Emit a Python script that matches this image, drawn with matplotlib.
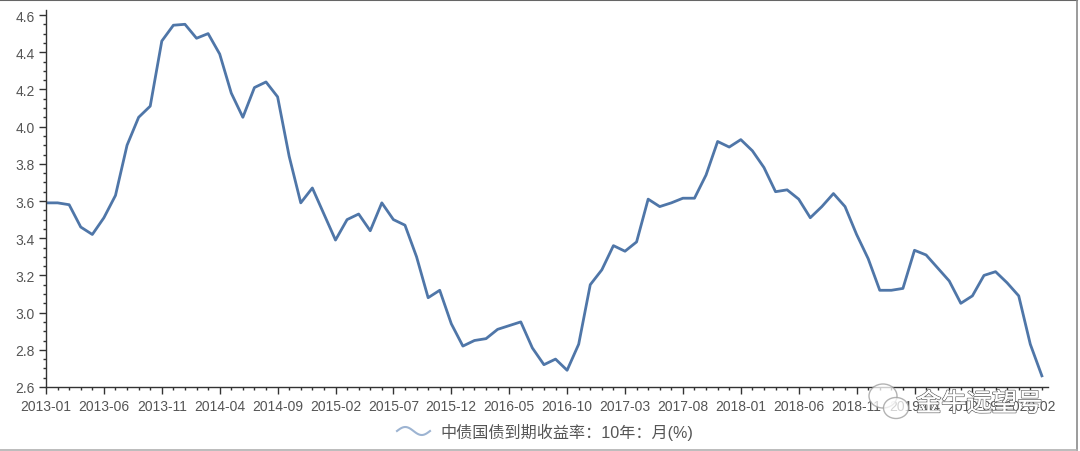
import numpy as np
import pandas as pd
import matplotlib
matplotlib.use('Agg')
import matplotlib.pyplot as plt
import matplotlib.patheffects as pe
from matplotlib.lines import Line2D
from matplotlib.patches import Ellipse

plt.rcParams['font.family'] = ['Liberation Sans', 'Noto Sans CJK SC', 'DejaVu Sans']

months = pd.date_range('2013-01-01', periods=87, freq='MS').strftime('%Y-%m').tolist()
yields = [3.59, 3.59, 3.58, 3.46, 3.42, 3.51, 3.63, 3.90, 4.05, 4.11,
          4.46, 4.545, 4.55, 4.475, 4.50, 4.39, 4.18, 4.05, 4.21, 4.24,
          4.16, 3.84, 3.59, 3.67, 3.53, 3.39, 3.50, 3.53, 3.44, 3.59,
          3.50, 3.47, 3.30, 3.08, 3.12, 2.94, 2.82, 2.85, 2.86, 2.91,
          2.93, 2.95, 2.81, 2.72, 2.75, 2.69, 2.83, 3.15, 3.23, 3.36,
          3.33, 3.38, 3.61, 3.57, 3.59, 3.615, 3.615, 3.74, 3.92, 3.89,
          3.93, 3.87, 3.78, 3.65, 3.66, 3.61, 3.51, 3.57, 3.64, 3.57,
          3.42, 3.29, 3.12, 3.12, 3.13, 3.335, 3.31, 3.24, 3.17, 3.05,
          3.09, 3.20, 3.22, 3.16, 3.09, 2.83, 2.66]
y_ticks = [2.6, 2.8, 3.0, 3.2, 3.4, 3.6, 3.8, 4.0, 4.2, 4.4, 4.6]
legend_label = '中债国债到期收益率：10年：月(%)'
watermark = '金牛远望号'

W, H = 1080, 452
TXT = '#555555'
AXC = '#333333'

fig = plt.figure(figsize=(W / 100, H / 100), dpi=100)
ax = fig.add_axes([46 / W, 1 - 388 / H, (1048 - 46) / W, (388 - 11) / H])

x = np.arange(len(months))
ax.plot(x, yields, color='#4f76a8', lw=2.0, solid_joinstyle='round')

ax.set_xlim(0, 1002 / 11.58)
ax.set_ylim(2.6, 2.6 + 377 / 186)

ax.set_xticks(x[::5])
ax.set_xticklabels(months[::5])
ax.set_xticks(x, minor=True)
ax.set_yticks(y_ticks)
ax.set_yticklabels([f'{v:.1f}' for v in y_ticks])
ax.set_yticks(np.arange(2.6, 4.62, 0.05), minor=True)

ax.tick_params(axis='both', which='major', length=5, width=1, color=AXC,
               labelcolor=TXT, labelsize=10, pad=3)
ax.tick_params(axis='x', which='major', pad=4)
ax.tick_params(axis='both', which='minor', length=2.5, width=1, color=AXC)

for s in ['top', 'right']:
    ax.spines[s].set_visible(False)
for s in ['left', 'bottom']:
    ax.spines[s].set_color(AXC)
    ax.spines[s].set_linewidth(1)

# screenshot edges, no line on the left
fig.add_artist(Line2D([0, 1077 / W], [1 - 1 / H, 1 - 1 / H], color='#666666', lw=1.5))
fig.add_artist(Line2D([1077 / W, 1077 / W], [1 / H, 1 - 1 / H], color='#8a8a8a', lw=1.2))
fig.add_artist(Line2D([0, 1077 / W], [1 / H, 1 / H], color='#b0b0b0', lw=1.2))

# legend key, wavy line
kx = np.linspace(397, 430, 60)
ky = 432 - 4 * np.sin((kx - 397) / 33 * 2 * np.pi)
fig.add_artist(Line2D(kx / W, 1 - ky / H, color='#9db4d2', lw=1.5))
fig.text(440 / W, 1 - 432 / H, legend_label, fontsize=11.6, color=TXT, va='center', ha='left')

# watermark
for cx, cy, w, h in [(883, 397, 28, 24), (896, 409, 25, 21)]:
    fig.add_artist(Ellipse((cx / W, 1 - cy / H), w / W, h / H, fc='white', ec='#9a9a9a', lw=1,
                           alpha=0.75, transform=fig.transFigure))
fig.text(916 / W, 1 - 405 / H, watermark, fontsize=18.2, color='white', va='center', ha='left',
         path_effects=[pe.withStroke(linewidth=1.2, foreground='#6a6a6a'), pe.Normal()])

fig.savefig('out.png', dpi=100)
